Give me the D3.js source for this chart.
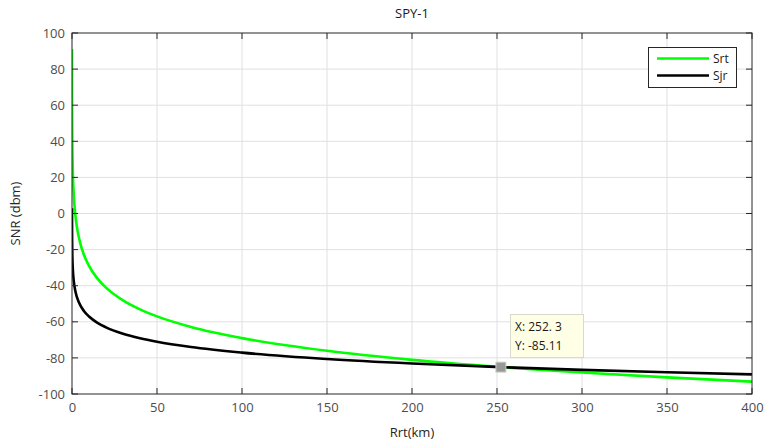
<!DOCTYPE html>
<html><head><meta charset="utf-8">
<script src="https://cdn.jsdelivr.net/npm/d3@7"></script>
<style>body{margin:0;background:#fff}svg{display:block}text{font-family:"Open Sans",sans-serif}</style>
</head><body>
<svg id="c" width="765" height="441"></svg>
<script>
const rangeKm = [0.01,0.02,0.05,0.1,0.2,0.5,1,2,3,5,7,10,15,20,30,40,50,70,100,150,200,252.3,300,350,400];
const srt = [90.97,78.93,63.01,50.97,38.93,23.01,10.97,-1.07,-8.12,-16.99,-22.84,-29.03,-36.08,-41.07,-48.12,-53.12,-56.99,-62.84,-69.03,-76.08,-81.07,-85.11,-88.12,-90.80,-93.12];
const sjr = [2.93,-3.09,-11.05,-17.07,-23.09,-31.05,-37.07,-43.09,-46.61,-51.05,-53.97,-57.07,-60.59,-63.09,-66.61,-69.11,-71.05,-73.97,-77.07,-80.59,-83.09,-85.11,-86.61,-87.95,-89.11];
const xTicks = [0,50,100,150,200,250,300,350,400];
const yTicks = [-100,-80,-60,-40,-20,0,20,40,60,80,100];
const seriesNames = ["Srt","Sjr"];
const tip = {x:252.3, y:-85.11, xLabel:"X: 252. 3", yLabel:"Y: -85.11"};

const svg = d3.select("#c");
const L=72,R=752,T=33,B=394;
const x = d3.scaleLinear().domain([0,400]).range([L,R]);
const y = d3.scaleLinear().domain([-100,100]).range([B,T]);

svg.append("defs").append("clipPath").attr("id","clip").append("rect").attr("x",L).attr("y",T).attr("width",R-L).attr("height",B-T);

// grid
const g = svg.append("g");
g.selectAll(".gx").data(xTicks.slice(1,-1)).join("line").attr("x1",d=>x(d)).attr("x2",d=>x(d)).attr("y1",T).attr("y2",B).attr("stroke","#e0e0e0").attr("stroke-width",1);
g.selectAll(".gy").data(yTicks.slice(1,-1)).join("line").attr("y1",d=>y(d)).attr("y2",d=>y(d)).attr("x1",L).attr("x2",R).attr("stroke","#e0e0e0").attr("stroke-width",1);

// lines
const pts = (ys)=>rangeKm.map((r,i)=>[r,ys[i]]);
const line = d3.line().x(d=>x(d[0])).y(d=>y(d[1])).curve(d3.curveMonotoneX);
const lg = svg.append("g").attr("clip-path","url(#clip)");
lg.append("path").attr("d",line(pts(srt))).attr("fill","none").attr("stroke","#00ff00").attr("stroke-width",2.6);
lg.append("path").attr("d",line(pts(sjr))).attr("fill","none").attr("stroke","#000").attr("stroke-width",2.6);

// axes
const fmt = d=>String(d);
const axB = d3.axisBottom(x).tickValues(xTicks).tickFormat(fmt).tickSize(0).tickPadding(9);
const axL = d3.axisLeft(y).tickValues(yTicks).tickFormat(fmt).tickSize(0).tickPadding(7);
const ax1 = svg.append("g").attr("transform",`translate(0,${B})`).call(axB);
const ax2 = svg.append("g").attr("transform",`translate(${L},0)`).call(axL);
[ax1,ax2].forEach(a=>{a.select(".domain").remove();a.selectAll("text").attr("fill","#4d4d4d").style("font-size","13px").style("font-family","'Open Sans',sans-serif");});
// inward ticks on all sides
const tk = svg.append("g").attr("stroke","#262626").attr("stroke-width",1);
xTicks.forEach(d=>{tk.append("line").attr("x1",x(d)).attr("x2",x(d)).attr("y1",B).attr("y2",B-6);tk.append("line").attr("x1",x(d)).attr("x2",x(d)).attr("y1",T).attr("y2",T+6);});
yTicks.forEach(d=>{tk.append("line").attr("y1",y(d)).attr("y2",y(d)).attr("x1",L).attr("x2",L+6);tk.append("line").attr("y1",y(d)).attr("y2",y(d)).attr("x1",R).attr("x2",R-6);});
svg.append("rect").attr("x",L).attr("y",T).attr("width",R-L).attr("height",B-T).attr("fill","none").attr("stroke","#262626").attr("stroke-width",1);

// title & labels
svg.append("text").attr("x",(L+R)/2).attr("y",18).attr("text-anchor","middle").attr("fill","#1a1a1a").style("font-size","13px").text("SPY-1");
svg.append("text").attr("x",(L+R)/2).attr("y",437).attr("text-anchor","middle").attr("fill","#262626").style("font-size","13px").text("Rrt(km)");
svg.append("text").attr("transform",`translate(20,${(T+B)/2}) rotate(-90)`).attr("text-anchor","middle").attr("fill","#262626").style("font-size","13px").text("SNR (dbm)");

// legend
const leg = svg.append("g");
leg.append("rect").attr("x",648.5).attr("y",47.5).attr("width",88).attr("height",40).attr("fill","#fff").attr("stroke","#262626");
const colors=["#00ff00","#000"];
seriesNames.forEach((n,i)=>{
  const yy=58.5+i*17;
  leg.append("line").attr("x1",657).attr("x2",709).attr("y1",yy).attr("y2",yy).attr("stroke",colors[i]).attr("stroke-width",2.6);
  leg.append("text").attr("x",713).attr("y",yy+4).attr("fill","#1a1a1a").style("font-size","12px").text(n);
});

// data tip
const tx=x(tip.x), ty=y(tip.y);
svg.append("rect").attr("x",tx-5).attr("y",ty-5).attr("width",10).attr("height",10).attr("fill","#999").attr("stroke","#d0d0c8").attr("stroke-width",1);
const tg = svg.append("g");
tg.append("rect").attr("x",510.5).attr("y",314.5).attr("width",73).attr("height",43).attr("fill","#ffffe6").attr("stroke","#d8d8cc");
tg.append("text").attr("x",515).attr("y",331).attr("fill","#1a1a1a").style("font-size","12px").text(tip.xLabel);
tg.append("text").attr("x",515).attr("y",350).attr("fill","#1a1a1a").style("font-size","12px").text(tip.yLabel);
</script>
</body></html>
